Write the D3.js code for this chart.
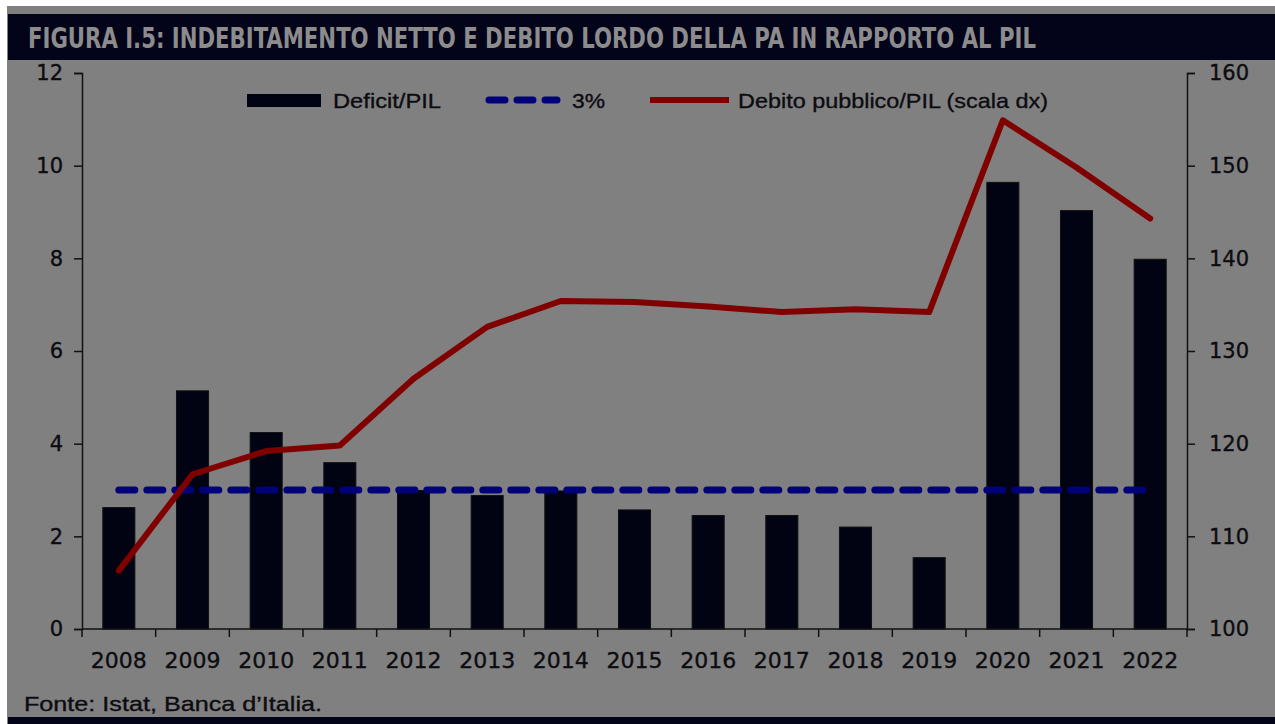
<!DOCTYPE html>
<html>
<head>
<meta charset="utf-8">
<script src="https://cdn.jsdelivr.net/npm/d3@7"></script>
<style>
  body { margin: 0; background: #fff; }
  svg { display: block; }
  text { font-family: "Liberation Sans", Arial, sans-serif; fill: #0c0c10; stroke: #0c0c10; stroke-width: 0.35px; }
</style>
</head>
<body>
<div id="chart"></div>
<script>
// data
const years = ["2008", "2009", "2010", "2011", "2012", "2013", "2014", "2015",
               "2016", "2017", "2018", "2019", "2020", "2021", "2022"];
const deficit = [2.62, 5.14, 4.24, 3.59, 2.99, 2.88, 2.98, 2.57, 2.45, 2.45, 2.2, 1.54, 9.64, 9.03, 7.98];
const threshold = [3, 3, 3, 3, 3, 3, 3, 3, 3, 3, 3, 3, 3, 3, 3];
const debt = [106.3, 116.7, 119.2, 119.8, 127.0, 132.6, 135.4, 135.3, 134.8, 134.2, 134.5, 134.2, 154.9, 149.8, 144.3];
const leftTicks = [0, 2, 4, 6, 8, 10, 12];
const rightTicks = [100, 110, 120, 130, 140, 150, 160];

const W = 1275, H = 724;
const m = {left: 82, right: 1187, top: 73, bottom: 629};

const svg = d3.select("#chart").append("svg")
    .attr("width", W)
    .attr("height", H);

// background panel + bars
svg.append("rect").attr("x", 7).attr("y", 6).attr("width", W - 7).attr("height", H - 6).attr("fill", "#808080");
svg.append("rect").attr("x", 8).attr("y", 14).attr("width", W - 8).attr("height", 46).attr("fill", "#03031a");
svg.append("rect").attr("x", 8).attr("y", 717).attr("width", W - 8).attr("height", 7).attr("fill", "#03031a");

svg.append("text")
    .attr("x", 28).attr("y", 48)
    .attr("textLength", 1008).attr("lengthAdjust", "spacingAndGlyphs")
    .style("font-family", "'Liberation Sans Narrow', 'DejaVu Sans Condensed', sans-serif")
    .style("font-weight", "bold").style("font-size", "28px").style("fill", "#8c8c8c").style("stroke", "none")
    .text("FIGURA I.5: INDEBITAMENTO NETTO E DEBITO LORDO DELLA PA IN RAPPORTO AL PIL");

// scales
const x = d3.scaleBand().domain(years).range([m.left, m.right]).paddingInner(0.565).paddingOuter(0.2825);
const xb = d3.scaleBand().domain(years).range([m.left, m.right]);
const yL = d3.scaleLinear().domain([0, 12]).range([m.bottom, m.top]);
const yR = d3.scaleLinear().domain([100, 160]).range([m.bottom, m.top]);

// bars
svg.append("g").selectAll("rect")
    .data(years)
    .join("rect")
    .attr("x", d => x(d))
    .attr("width", x.bandwidth())
    .attr("y", (d, i) => yL(deficit[i]))
    .attr("height", (d, i) => yL(0) - yL(deficit[i]))
    .attr("fill", "#020312")
    .attr("stroke", "#111")
    .attr("stroke-width", 1);

// 3% dashed line
const cx = d => xb(d) + xb.bandwidth() / 2;
svg.append("path")
    .datum(years)
    .attr("fill", "none")
    .attr("stroke", "#01017a")
    .attr("stroke-width", 7)
    .attr("stroke-linecap", "round")
    .attr("stroke-dasharray", "16,12")
    .attr("d", d3.line().x(cx).y((d, i) => yL(threshold[i])));

// debt line
svg.append("path")
    .datum(years)
    .attr("fill", "none")
    .attr("stroke", "#800000")
    .attr("stroke-width", 6)
    .attr("stroke-linejoin", "round")
    .attr("stroke-linecap", "round")
    .attr("d", d3.line().x(cx).y((d, i) => yR(debt[i])));

// axes
const axisStyle = g => {
    g.select(".domain").attr("stroke", "#111").attr("stroke-width", 1.5);
    g.selectAll(".tick line").attr("stroke", "#111").attr("stroke-width", 1.5);
    g.selectAll(".tick text").style("font-size", "21px").style("fill", "#0c0c10")
        .style("font-family", "'DejaVu Sans', sans-serif");
};

svg.append("g")
    .attr("transform", `translate(${m.left},0)`)
    .call(d3.axisLeft(yL).tickValues(leftTicks).tickSize(8).tickPadding(11).tickSizeOuter(8))
    .call(axisStyle);

svg.append("g")
    .attr("transform", `translate(${m.right},0)`)
    .call(d3.axisRight(yR).tickValues(rightTicks).tickSize(8).tickPadding(14).tickSizeOuter(8))
    .call(axisStyle);

// x axis: ticks on category boundaries
const xAxis = svg.append("g").attr("transform", `translate(0,${m.bottom})`);
xAxis.append("line").attr("x1", m.left).attr("x2", m.right).attr("stroke", "#111").attr("stroke-width", 1.5);
xAxis.selectAll("line.tk")
    .data(years.concat(["end"]))
    .join("line")
    .attr("class", "tk")
    .attr("x1", (d, i) => i < years.length ? xb(d) : m.right)
    .attr("x2", (d, i) => i < years.length ? xb(d) : m.right)
    .attr("y1", 0).attr("y2", 8)
    .attr("stroke", "#111").attr("stroke-width", 1.5);
xAxis.selectAll("text")
    .data(years)
    .join("text")
    .attr("x", cx)
    .attr("y", 39)
    .attr("text-anchor", "middle")
    .attr("textLength", 56).attr("lengthAdjust", "spacingAndGlyphs")
    .style("font-family", "'DejaVu Sans', sans-serif")
    .style("font-size", "22px")
    .text(d => d);

// legend
const lg = svg.append("g");
lg.append("rect").attr("x", 247).attr("y", 94).attr("width", 74).attr("height", 13).attr("fill", "#020312");
lg.append("text").attr("x", 333).attr("y", 108).style("font-size", "21px")
    .attr("textLength", 108).attr("lengthAdjust", "spacingAndGlyphs").text("Deficit/PIL");
lg.append("line").attr("x1", 489).attr("x2", 557).attr("y1", 100).attr("y2", 100)
    .attr("stroke", "#01017a").attr("stroke-width", 7).attr("stroke-linecap", "round")
    .attr("stroke-dasharray", "16,12");
lg.append("text").attr("x", 572).attr("y", 108).style("font-size", "21px")
    .attr("textLength", 33).attr("lengthAdjust", "spacingAndGlyphs").text("3%");
lg.append("line").attr("x1", 650).attr("x2", 729).attr("y1", 100).attr("y2", 100)
    .attr("stroke", "#800000").attr("stroke-width", 6);
lg.append("text").attr("x", 738).attr("y", 108).style("font-size", "21px")
    .attr("textLength", 310).attr("lengthAdjust", "spacingAndGlyphs").text("Debito pubblico/PIL (scala dx)");

// source
svg.append("text").attr("x", 24).attr("y", 711).style("font-size", "21px")
    .attr("textLength", 298).attr("lengthAdjust", "spacingAndGlyphs")
    .text("Fonte: Istat, Banca d’Italia.");
</script>
</body>
</html>
